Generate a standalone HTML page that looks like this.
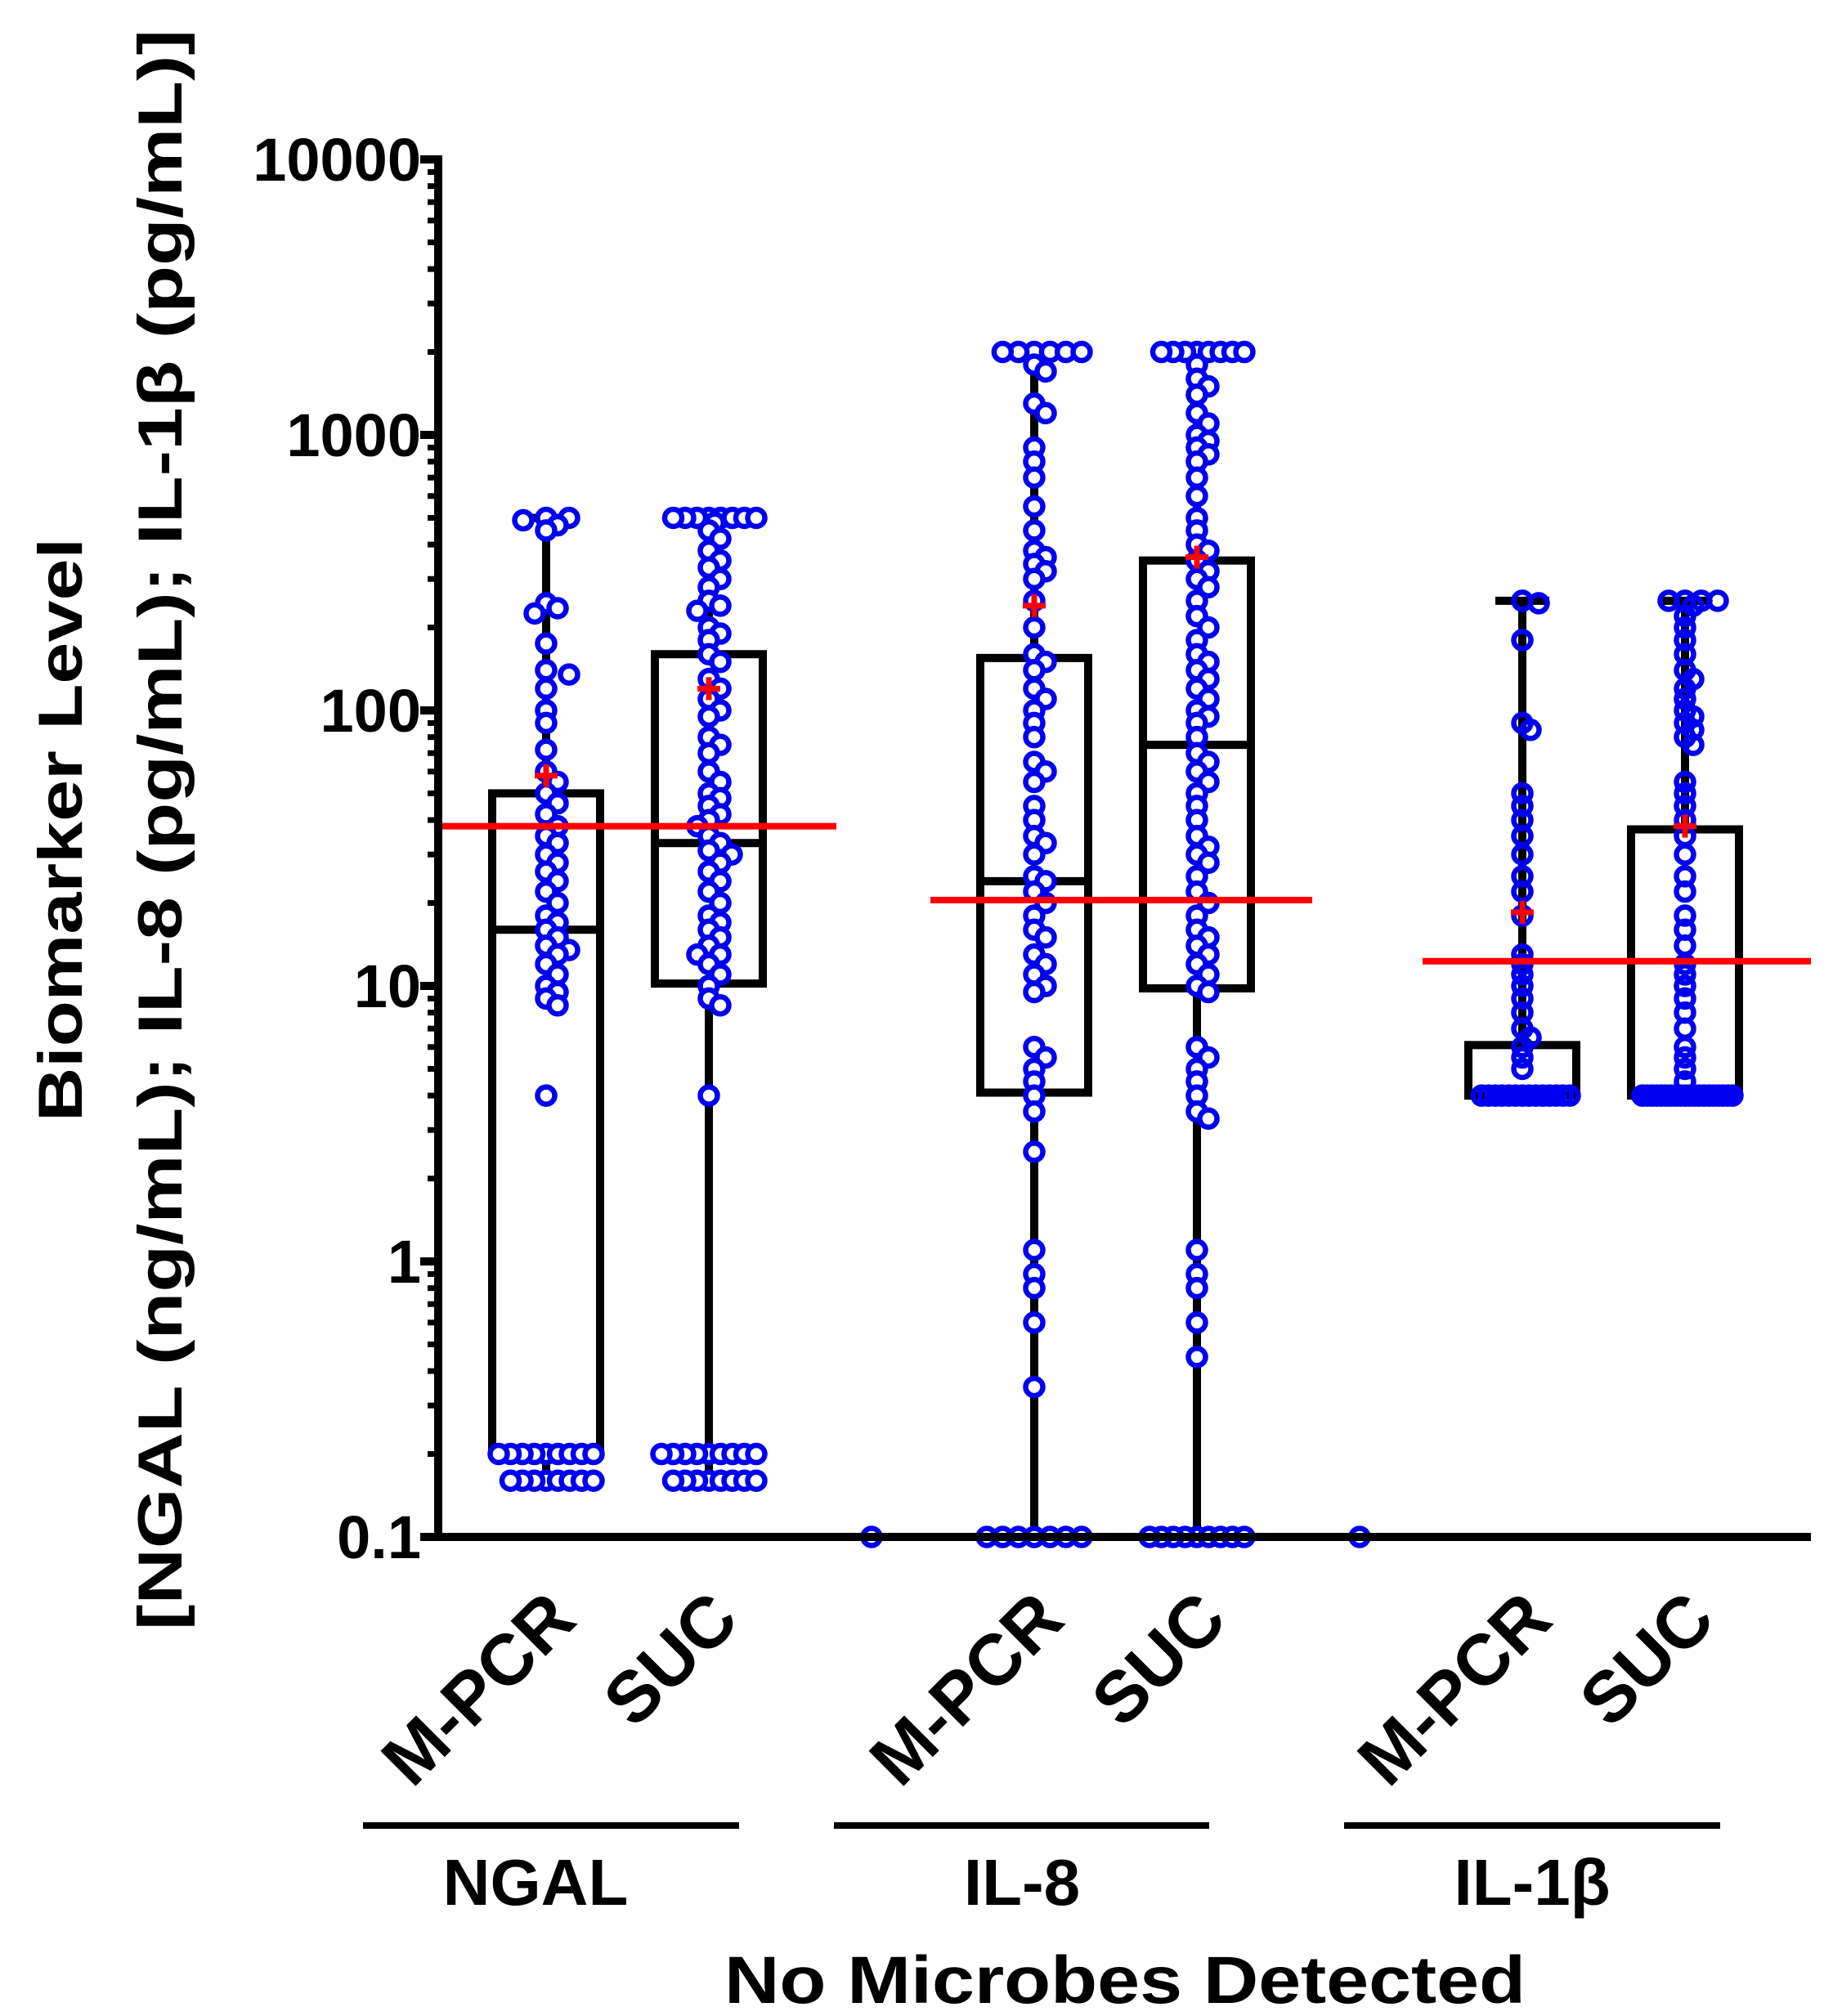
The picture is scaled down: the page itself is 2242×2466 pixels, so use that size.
<!DOCTYPE html>
<html><head><meta charset="utf-8"><style>html,body{margin:0;padding:0;background:#fff}svg{display:block}</style></head>
<body>
<svg id="chart" xmlns="http://www.w3.org/2000/svg" width="2242" height="2466" viewBox="0 0 2242 2466" font-family="Liberation Sans, Arial, sans-serif" font-weight="bold">
<rect width="2242" height="2466" fill="#fff"/>
<g id="plot"></g>
<text transform="translate(100,1015) rotate(-90)" text-anchor="middle" font-size="76" textLength="714" lengthAdjust="spacingAndGlyphs">Biomarker Level</text>
<text transform="translate(222,1015) rotate(-90)" text-anchor="middle" font-size="76" textLength="1958" lengthAdjust="spacingAndGlyphs">[NGAL (ng/mL); IL-8 (pg/mL); IL-1β (pg/mL)]</text>
<text x="1376" y="2450" text-anchor="middle" font-size="82" textLength="980" lengthAdjust="spacingAndGlyphs">No Microbes Detected</text>
</svg>
<script>
const yTicks = [0.1, 1, 10, 100, 1000, 10000];
const yTickLabels = ["0.1", "1", "10", "100", "1000", "10000"];
const groupNames = ["NGAL", "IL-8", "IL-1β"];
const categories = ["M-PCR", "SUC", "M-PCR", "SUC", "M-PCR", "SUC"];
const catCols = [0, 1, 3, 4, 6, 7];
const boxMin = [0.16, 0.16, 0.1, 0.1, 4, 4];
const boxQ1 = [0.2, 10.2, 4.1, 9.8, 4, 4];
const boxMed = [16, 33, 24, 75, 4, 4];
const boxQ3 = [50, 160, 155, 350, 6.1, 37];
const boxMax = [500, 500, 2000, 2000, 250, 250];
const means = [58, 120, 240, 360, 18.5, 38];
const refLines = [38, 20.5, 12.3];
function rep(v,n){return Array(n).fill(v);}
const ptsNGAL_M = [500,500,490,470,450,245,235,225,175,140,135,120,100,90,72,60,55,50,46,42,38,35,33,30,28,26,24,22,20,18,17,16,15,14,13.5,13,12,11,10,9.5,9,8.5,4].concat(rep(0.2,9),rep(0.16,8));
const ptsNGAL_S = rep(500,8).concat([480,450,420,380,350,330,300,280,250,240,230,200,190,180,160,150,130,120,110,100,95,80,75,70,60,55,50,48,45,42,40,38,35,33,31,30,28,26,24,22,20,18,17,16,15,14,13,13,12,11,10,9,8.5,4],rep(0.2,9),rep(0.16,8));
const ptsIL8_M = rep(2000,6).concat([1800,1700,1300,1200,900,800,700,550,450,380,360,340,320,300,250,200,160,150,140,120,110,100,90,80,65,60,55,45,40,35,33,30,25,24,22,20,18,16,15,13,12,11,10,9.5,6,5.5,5,4.5,4,3.5,2.5,1.1,0.9,0.8,0.6,0.35],rep(0.1,7));
const ptsIL8_S = rep(2000,8).concat([1800,1600,1500,1400,1200,1100,1000,950,900,850,800,700,600,500,450,400,380,350,320,300,280,250,220,200,180,160,150,140,130,120,110,100,95,90,80,70,65,60,55,50,45,40,35,32,30,28,25,22,20,18,16,15,14,13,12,11,10,9.5,6,5.5,5,4.5,4,3.5,3.3,1.1,0.9,0.8,0.6,0.45],rep(0.1,9));
const ptsIL1_M = [250,245,180,90,85,50,45,40,35,30,25,22,18,13,12,11,10,9,8,7,6.5,6,5.5,5].concat(rep(4,14));
const ptsIL1_S = rep(250,4).concat([240,220,200,180,160,140,130,120,110,100,95,90,85,80,75,55,50,45,40,35,30,25,22,18,16,14,12,11,10,9,8,7,6,5.5,5,4.5],rep(4,20));
const ptsExtraA = [0.1];
const ptsExtraB = [0.1];

const NS="http://www.w3.org/2000/svg";
const plot=document.getElementById('plot');
const X0=536, XEND=2215, YTOP=195, YBOT=1880;
const col0=668, colStep=199;
function yS(v){return YBOT-(Math.log10(v)-Math.log10(0.1))*(YBOT-YTOP)/5;}
function xS(c){return col0+c*colStep;}
function mk(tag,attrs,parent){const e=document.createElementNS(NS,tag);for(const k in attrs)e.setAttribute(k,attrs[k]);(parent||plot).appendChild(e);return e;}

const boxW=132, capW=66;
for(let i=0;i<catCols.length;i++){
  const cx=xS(catCols[i]);
  const g=mk('g',{});
  
  
  const st={stroke:'#000','stroke-width':10,fill:'none'};
  mk('line',Object.assign({x1:cx,x2:cx,y1:yS(boxMax[i]),y2:yS(boxMin[i])},st),g);
  mk('line',Object.assign({x1:cx-capW/2,x2:cx+capW/2,y1:yS(boxMax[i]),y2:yS(boxMax[i])},st),g);
  mk('line',Object.assign({x1:cx-capW/2,x2:cx+capW/2,y1:yS(boxMin[i]),y2:yS(boxMin[i])},st),g);
  mk('rect',{x:cx-boxW/2,y:yS(boxQ3[i]),width:boxW,height:yS(boxQ1[i])-yS(boxQ3[i]),fill:'#fff',stroke:'#000','stroke-width':10},g);
  mk('line',{x1:cx-boxW/2,x2:cx+boxW/2,y1:yS(boxMed[i]),y2:yS(boxMed[i]),stroke:'#000','stroke-width':10},g);
}
const sets=[[0,ptsNGAL_M],[1,ptsNGAL_S],[2,ptsExtraA],[3,ptsIL8_M],[4,ptsIL8_S],[5,ptsExtraB],[6,ptsIL1_M],[7,ptsIL1_S]];
sets.forEach(([c,vals])=>{
  const cx=xS(c);
  const placed=[];
  const step = c>=6 ? 10 : 14;
  vals.forEach(v=>{
    const y=yS(v);
    let off=0;
    for(let k=0;k<60;k++){
      const cand=k===0?0:(k%2?1:-1)*Math.ceil(k/2)*step;
      let ok=true;
      for(const p of placed){const dx=p[0]-cand,dy=p[1]-y;if(dx*dx+dy*dy<(step+1)*(step+1)){ok=false;break;}}
      if(ok){off=cand;break;}
    }
    placed.push([off,y]);
  });
  // compress wide rows to fit within the box width
  const limit=58;
  const finals=placed.map(p=>{
    let m=0;
    placed.forEach(q=>{if(Math.abs(q[1]-p[1])<16)m=Math.max(m,Math.abs(q[0]));});
    const s=m>limit?limit/m:1;
    return [p[0]*s,p[1]];
  });
  finals.forEach(p=>{
    const e=mk('circle',{cx:cx+p[0],cy:p[1],r:10.5,fill:(c>=6||c===2||c===5)?'none':'#fff',stroke:'#0000f0','stroke-width':6.5});
    
    
  });
});
for(let i=0;i<catCols.length;i++){
  const cx=xS(catCols[i]), y=yS(means[i]);
  const g=mk('g',{stroke:'#ff0000','stroke-width':7});
  
  
  mk('line',{x1:cx-14,x2:cx+14,y1:y,y2:y},g);
  mk('line',{x1:cx,x2:cx,y1:y-14,y2:y+14},g);
}
const refSpans=[[X0+4,1023],[1138,1605],[1740,XEND]];
refLines.forEach((v,i)=>{
  const e=mk('line',{x1:refSpans[i][0],x2:refSpans[i][1],y1:yS(v),y2:yS(v),stroke:'#ff0000','stroke-width':8});
  
  
});
const ax=mk('g',{stroke:'#000'});


mk('line',{x1:X0,x2:X0,y1:YTOP-5,y2:YBOT+5,'stroke-width':10},ax);
yTicks.forEach((t,i)=>{
  mk('line',{x1:X0-22,x2:X0,y1:yS(t),y2:yS(t),'stroke-width':10},ax);
  if(i<yTicks.length-1){for(let m=2;m<=9;m++){const yy=yS(t*m);mk('line',{x1:X0-13,x2:X0,y1:yy,y2:yy,'stroke-width':7},ax);}}
  const tx=mk('text',{x:515,y:yS(t)+26,'text-anchor':'end','font-size':74,stroke:'none',fill:'#000'});
  
  
  tx.textContent=yTickLabels[i];
});
const xa=mk('line',{x1:X0-5,x2:XEND,y1:YBOT,y2:YBOT,stroke:'#000','stroke-width':10});


categories.forEach((c,i)=>{
  const cx=xS(catCols[i])+40, y=1985;
  const t=mk('text',{transform:'translate('+cx+','+y+') rotate(-45)','text-anchor':'end','font-size':88,fill:'#000'});
  
  
  t.textContent=c;
});
const gSpans=[[444,904],[1020,1479],[1644,2104]];
const gCenters=[655,1250,1874];
groupNames.forEach((n,i)=>{
  const l=mk('line',{x1:gSpans[i][0],x2:gSpans[i][1],y1:2233,y2:2233,stroke:'#000','stroke-width':8});
  
  
  const t=mk('text',{x:gCenters[i],y:2330,'text-anchor':'middle','font-size':80,fill:'#000'});
  
  
  t.textContent=n;
});
</script>
</body></html>
